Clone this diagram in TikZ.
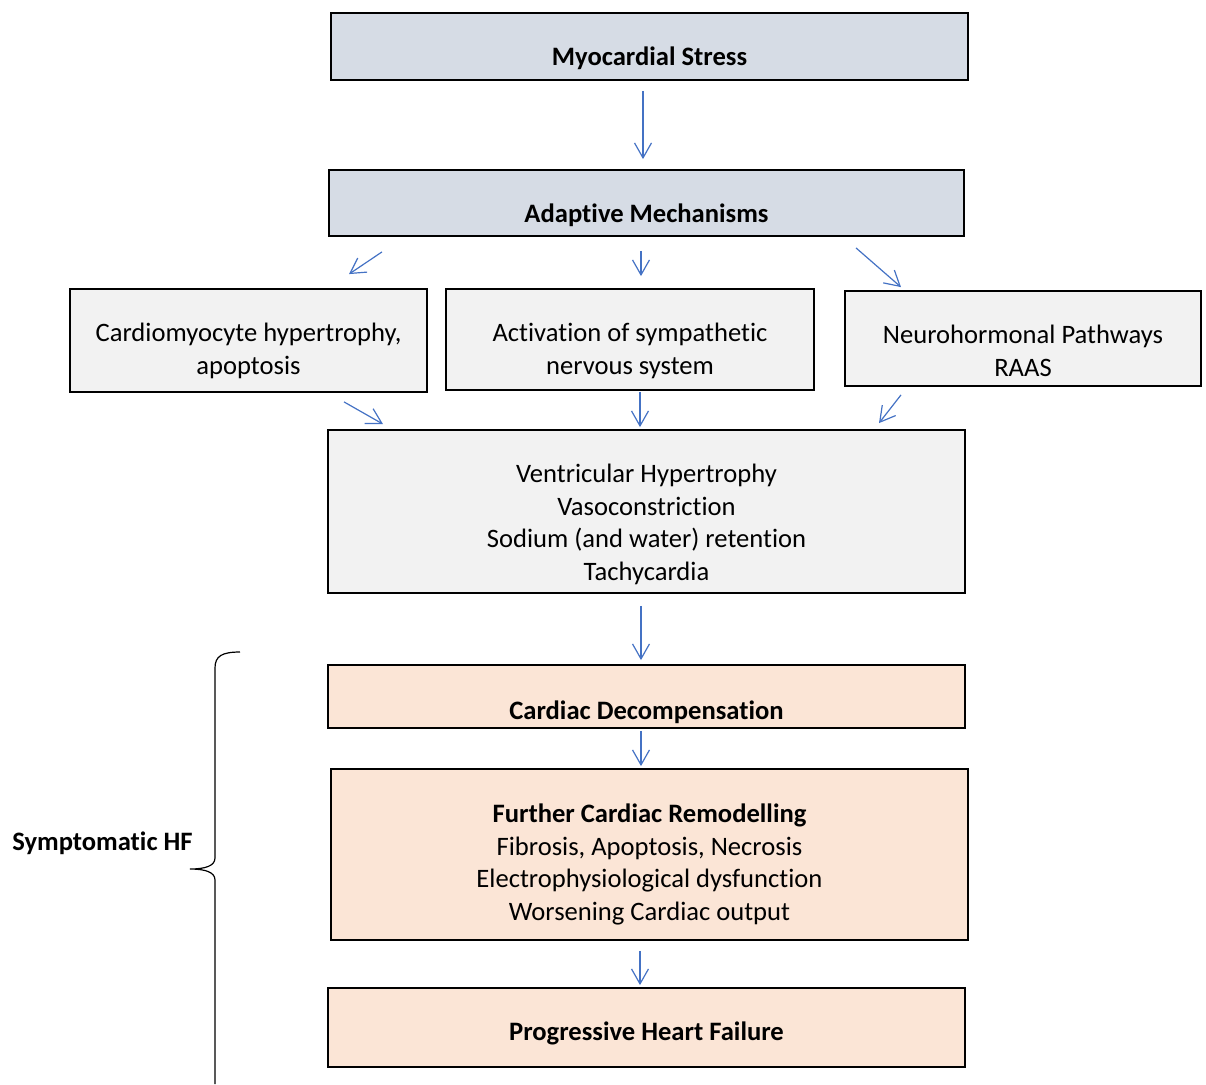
\documentclass[tikz,border=0pt]{standalone}
\usepackage{fontspec}
\setmainfont{Carlito}[RawFeature={-liga;-clig;-calt;-dlig}]
\usepackage{tikz}
\usetikzlibrary{
  arrows.meta,
  calc
}
\usepackage{xcolor}
\definecolor{cblue}{RGB}{68,114,196}
\definecolor{lslate}{RGB}{214,220,229}
\definecolor{lgrey}{RGB}{242,242,242}
\definecolor{lpeach}{RGB}{251,229,214}
\tikzset{
  stage/.style={
    rectangle, fill=lgrey, draw=black, line width=0.9pt,
    inner xsep=4pt, inner ysep=0pt, align=center,
    font=\fontsize{13.3}{16.2}\selectfont
  },
  stageS/.style={
    stage, fill=lslate, font=\fontsize{13.3}{16.2}\selectfont\bfseries
  },
  stageP/.style={
    stage, fill=lpeach
  },
  arr/.style={-{Straight Barb[length=7.5pt,width=8.5pt]}, line width=0.6pt, color=cblue}
}

\begin{document}
\begin{tikzpicture}[x=0.5pt, y=-0.5pt]

    \useasboundingbox (0,0) rectangle (1206,1084);

    %% Top: stress and adaptation
    \node[stageS, minimum width=318.5pt, minimum height=33.5pt,
      text height=26pt, text depth=7.5pt] (ms) at (649.5,46.5)
      {Myocardial Stress};
    \node[stageS, minimum width=317.5pt, minimum height=33pt,
      text height=26pt, text depth=7pt] (am) at (646.5,203)
      {Adaptive Mechanisms};

    %% Three pathways
    \node[stage, minimum width=178.5pt, minimum height=51.5pt,
      text height=42.5pt, text depth=9pt] (cm) at (248.5,340.5)
      {Cardiomyocyte hypertrophy,\\apoptosis};
    \node[stage, minimum width=184pt, minimum height=50.5pt,
      text height=42.5pt, text depth=8pt] (an) at (630,339.5)
      {Activation of sympathetic\\nervous system};
    \node[stage, minimum width=178pt, minimum height=47.5pt,
      text height=42.5pt, text depth=5pt] (nh) at (1023,338.5)
      {Neurohormonal Pathways\\RAAS};

    %% Compensation
    \node[stage, minimum width=318.5pt, minimum height=81.5pt,
      text height=75pt, text depth=6.5pt] (vh) at (646.5,511.5)
      {Ventricular Hypertrophy\\Vasoconstriction\\Sodium (and water) retention\\Tachycardia};

    %% Symptomatic stages
    \node[stageP, font=\fontsize{13.3}{16.2}\selectfont\bfseries,
      minimum width=318.5pt, minimum height=31.5pt,
      text height=27pt, text depth=4.5pt] (cd) at (646.5,696.5)
      {Cardiac Decompensation};
    \node[stageP, minimum width=318.5pt, minimum height=85.5pt,
      text height=75.5pt, text depth=10pt] (fr) at (649.5,854.5)
      {\textbf{Further Cardiac Remodelling}\\Fibrosis, Apoptosis, Necrosis\\Electrophysiological dysfunction\\Worsening Cardiac output};
    \node[stageP, font=\fontsize{13.3}{16.2}\selectfont\bfseries,
      minimum width=318.5pt, minimum height=39.5pt,
      text height=26pt, text depth=13.5pt] (ph) at (646.5,1027.5)
      {Progressive Heart Failure};

    %% Arrows
    \draw[arr] ($(ms.south)+(-6.5,10)$) -- ($(am.north)+(-3.5,-10)$);
    \draw[arr] ($(am.south)+(-264.5,15)$) -- ($(cm.north)+(100.5,-14)$);
    \draw[arr] ($(am.south)+(-5.5,14)$) -- ($(an.north)+(11,-12)$);
    \draw[arr] ($(am.south)+(209.5,11)$) -- ($(nh.north)+(-122,-3)$);
    \draw[arr] ($(cm.south)+(95.5,9)$) -- ($(vh.north)+(-263.5,-5)$);
    \draw[arr] ($(an.south)+(10,1)$) -- ($(vh.north)+(-6.5,-2)$);
    \draw[arr] ($(nh.south)+(-122,8)$) -- ($(vh.north)+(232.5,-6)$);
    \draw[arr] ($(vh.south)+(-5.5,12)$) -- ($(cd.north)+(-5.5,-4)$);
    \draw[arr] ($(cd.south)+(-5.5,2)$) -- ($(fr.north)+(-8.5,-2)$);
    \draw[arr] ($(fr.south)+(-9.5,10)$) -- ($(ph.north)+(-6.5,-2)$);

    %% Brace
    \draw[line width=0.6pt]
      (240,652) .. controls (222,652) and (215,656) .. (215,668)
      -- (215,858) .. controls (215,866) and (205,869) .. (190,869)
      .. controls (205,869) and (215,872) .. (215,880) -- (215,1084);
    \node[anchor=base east, inner sep=0pt,
      font=\fontsize{13.3}{16.2}\selectfont\bfseries] (hf) at (193,850)
      {Symptomatic HF};

\end{tikzpicture}
\end{document}
